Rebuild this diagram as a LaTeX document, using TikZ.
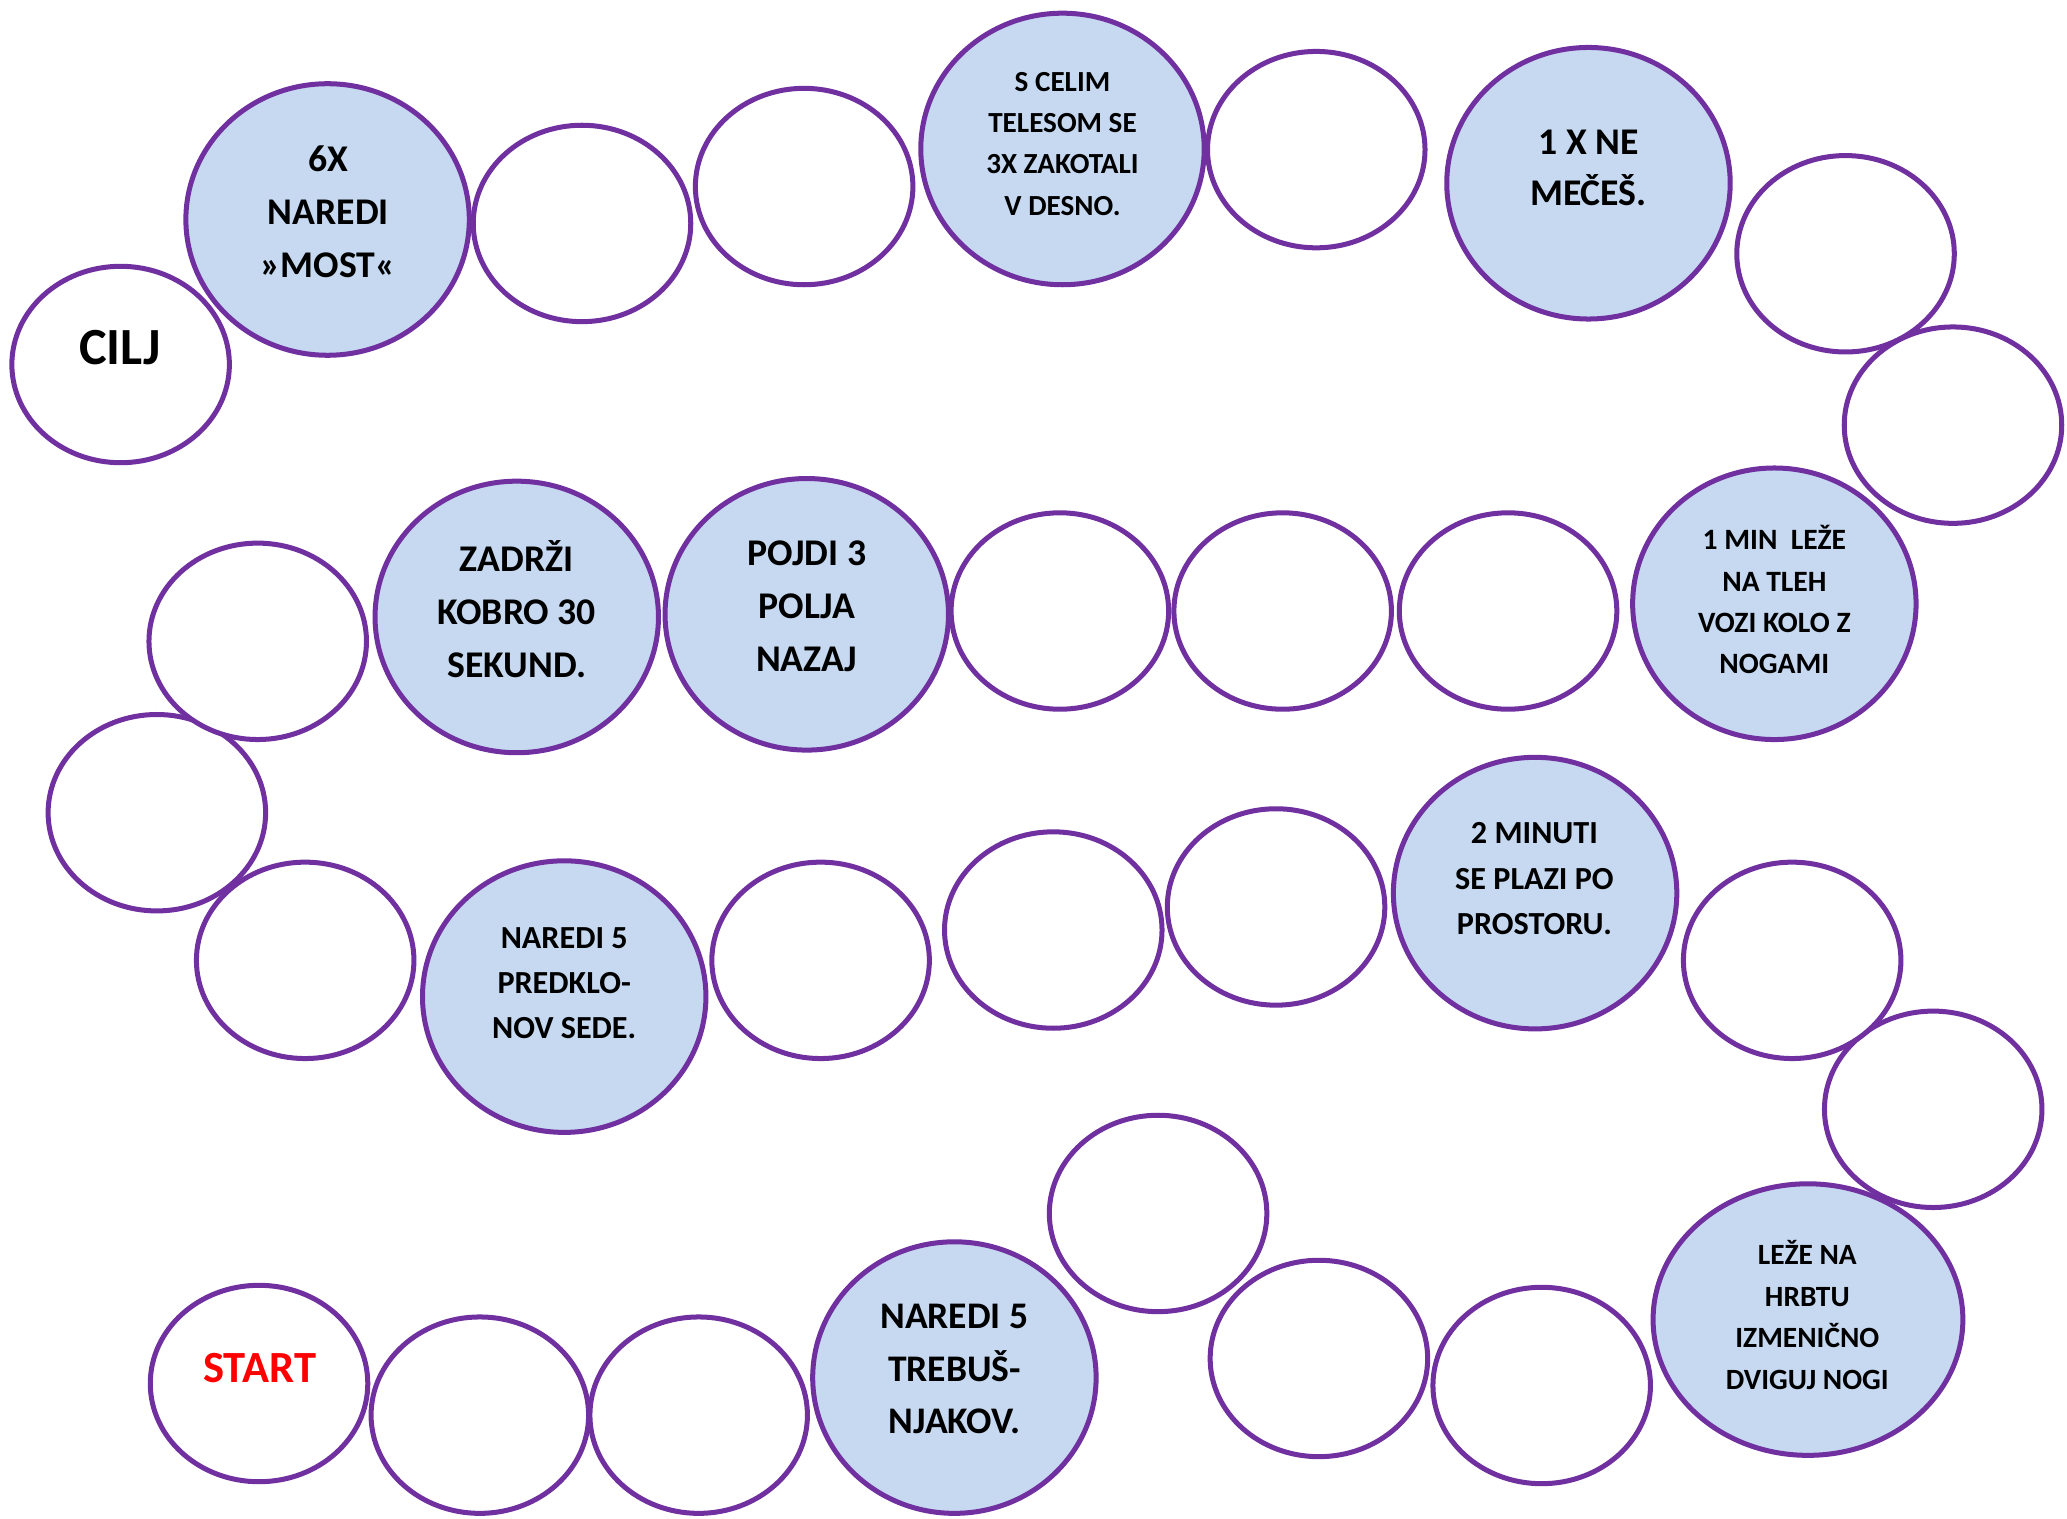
\documentclass[tikz,border=0pt]{standalone}
\usepackage{fontspec}
\setmainfont{Carlito}
\usetikzlibrary{shapes.geometric}
\definecolor{pur}{HTML}{7030A0}
\definecolor{lblue}{HTML}{C6D9F1}
\definecolor{startred}{HTML}{FF0000}
\tikzset{
  spot/.style={ellipse, draw=pur, line width=3.8pt, fill=white, minimum width=165pt, minimum height=149pt, inner sep=0pt},
  task/.style={spot, fill=lblue, minimum width=215pt, minimum height=206pt},
  txt/.style={align=center, inner sep=0pt, font=\bfseries}
}
\begin{document}
\begin{tikzpicture}[x=1pt,y=-1pt]
\useasboundingbox (0,0) rectangle (1568,1152);
% top row
\node[task] (e2) at (248.5,166.5) {};
\node[spot] (e1) at (91.5,276.5) {};
\node[spot] (e3) at (441.5,169.5) {};
\node[spot] (e4) at (610,141.5) {};
\node[task] (e5) at (806,113) {};
\node[spot] (e6) at (998.5,113.5) {};
\node[task] (e7) at (1205,139) {};
\node[task] (e10) at (1346,458) {};
\node[spot] (e9) at (1481.5,322.5) {};
\node[spot] (e8) at (1400,192.5) {};
% second row
\node[spot] (e11) at (1144,463.5) {};
\node[spot] (e12) at (973,463.5) {};
\node[spot] (e13) at (804,463.5) {};
\node[task] (e14) at (612,466) {};
\node[task] (e15) at (392,468) {};
\node[spot] (e17) at (119,616.5) {};
\node[spot] (e16) at (195.5,486.5) {};
\node[spot] (e18) at (231.5,728.5) {};
% third row
\node[task] (e19) at (428,756) {};
\node[spot] (e20) at (622.5,728.5) {};
\node[spot] (e21) at (799,705.5) {};
\node[spot] (e22) at (968,688) {};
\node[task] (e23) at (1164.5,677.5) {};
\node[task, minimum width=235pt] (e26) at (1371.5,1001) {};
\node[spot] (e25) at (1466.5,841.5) {};
\node[spot] (e24) at (1359.5,728.5) {};
% bottom row
\node[spot] (e27) at (1169.5,1051) {};
\node[spot] (e28) at (1000.5,1030.5) {};
\node[spot] (e29) at (878.5,920.5) {};
\node[task] (e30) at (724,1045) {};
\node[spot] (e31) at (530,1073.5) {};
\node[spot] (e32) at (364,1073.5) {};
\node[spot] (e33) at (196.5,1049.5) {};
% texts
\node[txt, font=\bfseries\fontsize{39.6}{46}\selectfont] (t1) at (91,264) {CILJ};
\node[txt, font=\bfseries\fontsize{28.6}{40}\selectfont] (t2) at (249,160.5) {6X\\NAREDI\\»MOST«};
\node[txt, font=\bfseries\fontsize{22.1}{31.3}\selectfont] (t5) at (806,109) {S CELIM\\TELESOM SE\\3X ZAKOTALI\\V DESNO.};
\node[txt, font=\bfseries\fontsize{28.6}{39}\selectfont] (t7) at (1205,127.5) {1 X NE\\MEČEŠ.};
\node[txt, font=\bfseries\fontsize{22.4}{31.3}\selectfont] (t10) at (1346,455) {1 MIN\ \ LEŽE\\NA TLEH\\VOZI KOLO Z\\NOGAMI};
\node[txt, font=\bfseries\fontsize{28.6}{40}\selectfont] (t14) at (612,460) {POJDI 3\\POLJA\\NAZAJ};
\node[txt, font=\bfseries\fontsize{28.6}{40}\selectfont] (t15) at (392,462) {ZADRŽI\\KOBRO 30\\SEKUND.};
\node[txt, font=\bfseries\fontsize{24.4}{34}\selectfont] (t19) at (428,746) {NAREDI 5\\PREDKLO-\\NOV SEDE.};
\node[txt, font=\bfseries\fontsize{24.4}{34.5}\selectfont] (t23) at (1164,666.5) {2 MINUTI\\SE PLAZI PO\\PROSTORU.};
\node[txt, font=\bfseries\fontsize{22.3}{31.6}\selectfont] (t26) at (1371,997.5) {LEŽE NA\\HRBTU\\IZMENIČNO\\DVIGUJ NOGI};
\node[txt, font=\bfseries\fontsize{28.5}{39.5}\selectfont] (t30) at (724,1038.5) {NAREDI 5\\TREBUŠ-\\NJAKOV.};
\node[txt, font=\bfseries\fontsize{33.8}{40}\selectfont, text=startred] (t33) at (197,1038) {START};
\end{tikzpicture}
\end{document}
